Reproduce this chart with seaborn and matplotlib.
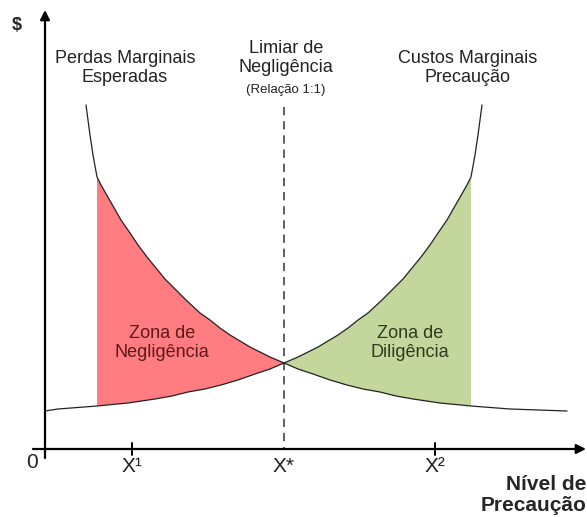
import numpy as np
import pandas as pd
import matplotlib
matplotlib.use("Agg")
import matplotlib.pyplot as plt
import seaborn as sns

# curve values (x = precaution level, y = $)
loss_x = [4.1, 4.3, 4.5, 4.8, 5.2, 5.6, 6.0, 6.8, 7.6, 8.5, 9.3, 10.2, 11.1, 12.0, 13.0,
          14.0, 15.5, 16.5, 17.5, 18.5, 19.5, 20.5, 21.5, 22.5, 23.9, 25.3, 26.8, 28.5,
          30.2, 31.8, 33.5, 35.1, 36.8, 39.5, 42.6, 46.5, 52.2]
loss_y = [34.4, 32.9, 31.4, 29.4, 27.2, 26.4, 25.7, 24.3, 22.9, 21.6, 20.4, 19.2, 18.1, 17.0, 16.0,
          15.0, 13.6, 12.9, 12.1, 11.4, 10.8, 10.2, 9.7, 9.2, 8.6, 8.0, 7.5, 6.9,
          6.4, 6.0, 5.7, 5.3, 5.0, 4.6, 4.3, 4.0, 3.8]
cost_x = [0.0, 1.3, 5.2, 8.3, 11.0, 12.7, 14.3, 16.0, 17.6, 19.3, 21.0, 22.5, 23.9, 25.3,
          26.3, 27.3, 28.3, 29.3, 30.3, 31.3, 32.3, 33.8, 34.8, 35.8, 36.7, 37.6, 38.5,
          39.3, 40.2, 41.0, 41.8, 42.2, 42.6, 43.0, 43.3, 43.5, 43.7]
cost_y = [3.8, 4.0, 4.3, 4.6, 5.0, 5.3, 5.7, 6.0, 6.4, 6.9, 7.5, 8.0, 8.6, 9.2,
          9.7, 10.2, 10.8, 11.4, 12.1, 12.9, 13.6, 15.0, 16.0, 17.0, 18.1, 19.2, 20.4,
          21.6, 22.9, 24.3, 25.7, 26.4, 27.2, 29.4, 31.4, 32.9, 34.4]

x_star = 23.9
x_one = 8.7
x_two = 39.0
zone_left = 5.2
zone_right = 42.6

tick_labels = ["0", "X¹", "X*", "X²"]
curve_labels = ["Perdas Marginais\nEsperadas", "Custos Marginais\nPrecaução"]
zone_labels = ["Zona de\nNegligência", "Zona de\nDiligência"]

sns.set_theme(style="white")
plt.rcParams["font.family"] = ["Liberation Sans", "DejaVu Sans"]

loss = pd.DataFrame({"x": loss_x, "y": loss_y})
cost = pd.DataFrame({"x": cost_x, "y": cost_y})

fig = plt.figure(figsize=(5.87, 5.17), dpi=100)
ax = fig.add_axes([0, 0, 1, 1])
ax.set_xlim(-4.5, 54.2)
ax.set_ylim(-6.8, 44.9)
ax.axis("off")

# shaded zones built from the curve points
lx, ly = np.array(loss_x), np.array(loss_y)
cx, cy = np.array(cost_x), np.array(cost_y)
m1 = (lx >= zone_left) & (lx <= x_star)
m2 = (cx >= zone_left) & (cx <= x_star)
ax.fill(np.r_[lx[m1], cx[m2][::-1]], np.r_[ly[m1], cy[m2][::-1]],
        color="#FF7C80", lw=0, zorder=1)
m3 = (cx >= x_star) & (cx <= zone_right)
m4 = (lx >= x_star) & (lx <= zone_right)
ax.fill(np.r_[cx[m3], lx[m4][::-1]], np.r_[cy[m3], ly[m4][::-1]],
        color="#C3D69B", lw=0, zorder=1)

sns.lineplot(data=loss, x="x", y="y", ax=ax, color="#222222", lw=0.9, zorder=3, sort=False)
sns.lineplot(data=cost, x="x", y="y", ax=ax, color="#222222", lw=0.9, zorder=3, sort=False)

# negligence threshold
ax.plot([x_star, x_star], [34.2, 0], color="#444444", lw=1.2, ls=(0, (5, 3.5)), zorder=2)

# axes with arrows
arrow = dict(arrowstyle="-|>", lw=1.6, color="black", mutation_scale=14, shrinkA=0, shrinkB=0)
ax.annotate("", xy=(0, 43.9), xytext=(0, -0.9), arrowprops=arrow, zorder=4)
ax.annotate("", xy=(54.1, 0), xytext=(-1.2, 0), arrowprops=arrow, zorder=4)
for t in [x_one, x_two]:
    ax.plot([t, t], [0.6, -0.6], color="black", lw=1.4, zorder=4)

ax.text(-2.8, 42.4, "$", fontsize=13, fontweight="bold", ha="center", va="center")
ax.text(-1.3, -1.3, tick_labels[0], fontsize=15, ha="center", va="center", color="#222222")
for t, lab in zip([x_one, x_star, x_two], tick_labels[1:]):
    ax.text(t, -1.8, lab, fontsize=15, ha="center", va="center", color="#222222")
ax.text(54.1, -4.6, "Nível de\nPrecaução", fontsize=15, fontweight="bold",
        ha="right", va="center", multialignment="right", linespacing=1.15)

ax.text(8.0, 38.1, curve_labels[0], fontsize=13, ha="center", va="center",
        color="#222222", linespacing=1.2)
ax.text(42.3, 38.1, curve_labels[1], fontsize=13, ha="center", va="center",
        color="#222222", linespacing=1.2)
ax.text(24.1, 39.1, "Limiar de\nNegligência", fontsize=13, ha="center", va="center",
        color="#222222", linespacing=1.2)
ax.text(24.1, 35.9, "(Relação 1:1)", fontsize=9.5, ha="center", va="center", color="#222222")

ax.text(11.7, 10.6, zone_labels[0], fontsize=13, ha="center", va="center",
        color="#5C1A1A", linespacing=1.2, zorder=5)
ax.text(36.5, 10.6, zone_labels[1], fontsize=13, ha="center", va="center",
        color="#2F3B1F", linespacing=1.2, zorder=5)

fig.savefig("out.png", dpi=100)
